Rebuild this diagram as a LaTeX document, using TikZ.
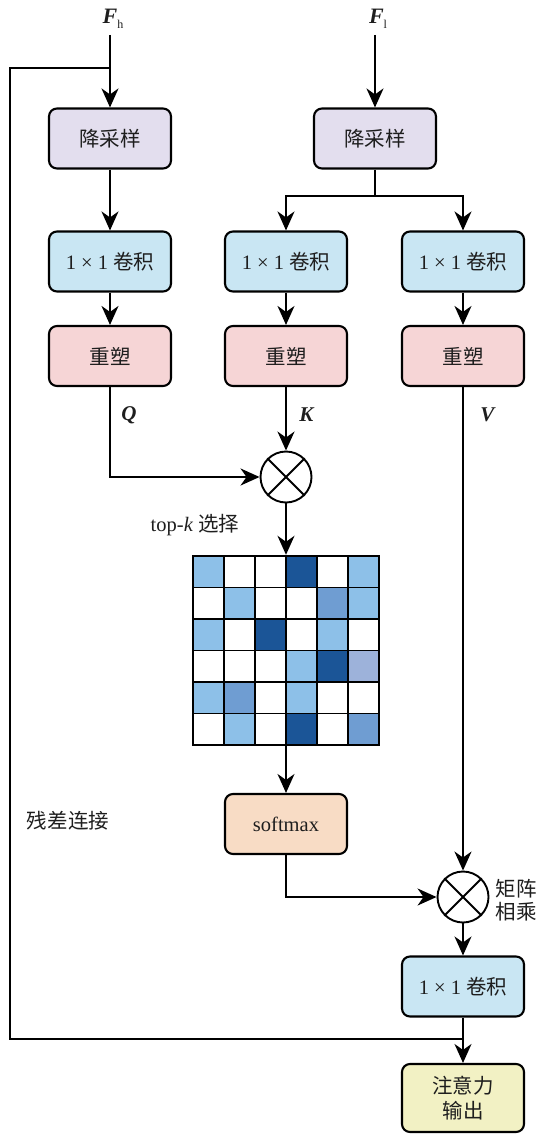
\documentclass[tikz,border=0pt]{standalone}
\usepackage{fontspec}
\setmainfont{Liberation Serif}
\newfontfamily\cjk{Noto Sans CJK SC}
\usetikzlibrary{arrows.meta}
\definecolor{cds}{HTML}{E3DEEE}
\definecolor{cconv}{HTML}{C9E6F3}
\definecolor{crs}{HTML}{F6D5D6}
\definecolor{csm}{HTML}{F8DCC5}
\definecolor{cout}{HTML}{F2F1C4}
\definecolor{mL}{HTML}{8DC0E8}
\definecolor{mD}{HTML}{1B5597}
\definecolor{mM}{HTML}{6F9DD2}
\definecolor{mP}{HTML}{9DB2DA}
\definecolor{txt}{HTML}{1E1E1E}
\begin{document}
\begin{tikzpicture}[x=1pt,y=-1pt,
  every node/.style={text=txt},
  box/.style={draw=black, line width=2.1pt, rounded corners=8pt, minimum width=122pt, minimum height=60pt, inner sep=0pt, align=center, font=\fontsize{20.5}{26}\selectfont},
  conn/.style={line width=1.9pt, -{Stealth[length=19pt,width=17pt,inset=6pt]}},
  line/.style={line width=1.9pt},
  mul/.style={circle, draw=black, line width=1.9pt, minimum size=51pt, inner sep=0pt},
  lbl/.style={font=\fontsize{20.5}{24}\selectfont, inner sep=0pt},
  cell/.style={draw=black, line width=1.5pt}
]
\useasboundingbox (0,0) rectangle (538,1134);
% inputs
\node[inner sep=0pt, font=\fontsize{22}{24}\selectfont] (fh) at (113,19) {\textbf{\textit{F}}\raisebox{-5pt}{\fontsize{12}{13}\selectfont h}};
\node[inner sep=0pt, font=\fontsize{22}{24}\selectfont] (fl) at (378,19) {\textbf{\textit{F}}\raisebox{-5pt}{\fontsize{12}{13}\selectfont l}};
% boxes
\node[box, fill=cds] (ds1) at (110,138.5) {\cjk 降采样};
\node[box, fill=cds] (ds2) at (375,138.5) {\cjk 降采样};
\node[box, fill=cconv] (cv1) at (110,261.5) {1 × 1 {\cjk 卷积}};
\node[box, fill=cconv] (cv2) at (286,261.5) {1 × 1 {\cjk 卷积}};
\node[box, fill=cconv] (cv3) at (463,261.5) {1 × 1 {\cjk 卷积}};
\node[box, fill=crs] (rs1) at (110,356) {\cjk 重塑};
\node[box, fill=crs] (rs2) at (286,356) {\cjk 重塑};
\node[box, fill=crs] (rs3) at (463,356) {\cjk 重塑};
\node[box, fill=csm] (sm) at (286,824) {softmax};
\node[box, fill=cconv] (cv4) at (463,986.5) {1 × 1 {\cjk 卷积}};
\node[box, fill=cout, minimum height=68pt, font=\fontsize{20.5}{25}\selectfont] (out) at (463,1098) {\cjk 注意力\\\cjk 输出};
% multiply circles
\node[mul] (m1) at (286,477) {};
\draw[line width=1.9pt] (m1.north east) -- (m1.south west) (m1.north west) -- (m1.south east);
\node[mul] (m2) at (463,897) {};
\draw[line width=1.9pt] (m2.north east) -- (m2.south west) (m2.north west) -- (m2.south east);
% matrix
\def\cw{31}\def\ch{31.5}
\foreach \row/\cols in {0/{mL,white,white,mD,white,mL},1/{white,mL,white,white,mM,mL},2/{mL,white,mD,white,mL,white},3/{white,white,white,mL,mD,mP},4/{mL,mM,white,mL,white,white},5/{white,mL,white,mD,white,mM}}{
  \foreach \c [count=\i from 0] in \cols {
    \fill[\c] (193+\i*\cw,556+\row*\ch) rectangle ++(\cw,\ch);
    \draw[cell] (193+\i*\cw,556+\row*\ch) rectangle ++(\cw,\ch);
  }
}
\node[draw=black, line width=2.4pt, minimum width=186pt, minimum height=189pt, inner sep=0pt] (mat) at (286,650.5) {};
% labels
\node[lbl, font=\fontsize{21}{24}\selectfont] (lq) at (129,415) {\textbf{\textit{Q}}};
\node[lbl, font=\fontsize{21}{24}\selectfont] (lk) at (307,415) {\textbf{\textit{K}}};
\node[lbl, font=\fontsize{21}{24}\selectfont] (lv) at (488,415) {\textbf{\textit{V}}};
\node[lbl] (topk) at (195,525) {top-\textit{k} {\cjk 选择}};
\node[lbl] (res) at (68,821) {\cjk 残差连接};
\node[lbl, align=center, font=\fontsize{20.5}{23}\selectfont] (mm) at (516,900) {\cjk 矩阵\\\cjk 相乘};
% connectors
\coordinate (j1) at (110,68);
\coordinate (rtl) at (10,68);
\coordinate (rbl) at (10,1039);
\coordinate (rbr) at (463,1039);
\coordinate (sp) at (375,196);
\coordinate (fhs) at (110,35);
\coordinate (fls) at (375,35);
\draw[conn] (fhs) -- (ds1.north);
\draw[conn] (fls) -- (ds2.north);
\draw[line] (j1) -- (rtl) -- (rbl) -- (rbr);
\draw[conn] (ds1) -- (cv1);
\draw[line] (ds2.south) -- (sp);
\draw[conn] (sp) -| (cv2.north);
\draw[conn] (sp) -| (cv3.north);
\draw[conn] (cv1) -- (rs1);
\draw[conn] (cv2) -- (rs2);
\draw[conn] (cv3) -- (rs3);
\draw[conn] (rs1.south) |- (m1.west);
\draw[conn] (rs2.south) -- (m1.north);
\draw[conn] (rs3.south) -- (m2.north);
\draw[conn] (m1.south) -- (mat.north);
\draw[conn] (mat.south) -- (sm.north);
\draw[conn] (sm.south) |- (m2.west);
\draw[conn] (m2.south) -- (cv4.north);
\draw[conn] (cv4.south) -- (out.north);
\end{tikzpicture}
\end{document}
